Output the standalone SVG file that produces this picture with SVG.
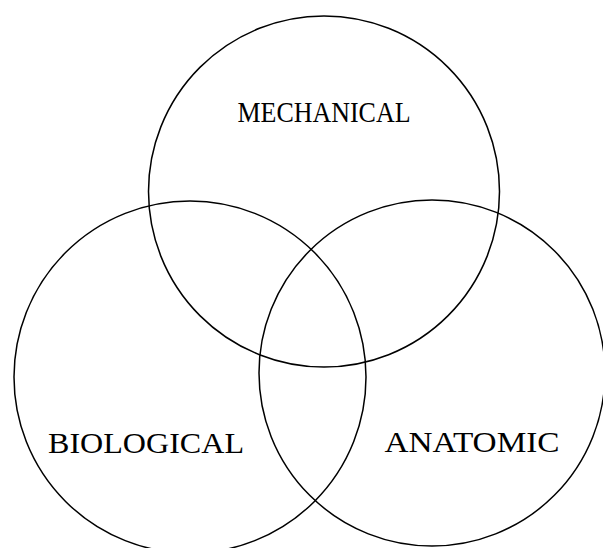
<svg xmlns="http://www.w3.org/2000/svg" width="603" height="548" viewBox="0 0 603 548">
<style>
.c{fill:none;stroke:#000;stroke-width:1.5}
.t{font-family:"Liberation Serif","Times New Roman",serif;font-size:30px;fill:#000;text-anchor:middle}
</style>
<rect width="603" height="548" fill="#fff"/>
<g id="mechanical"><circle class="c" cx="324" cy="191.5" r="175.5"/><text class="t" x="324" y="122" textLength="173" lengthAdjust="spacingAndGlyphs">MECHANICAL</text></g>
<g id="biological"><circle class="c" cx="190" cy="377" r="176"/><text class="t" x="146" y="453" textLength="196" lengthAdjust="spacingAndGlyphs">BIOLOGICAL</text></g>
<g id="anatomic"><circle class="c" cx="432" cy="373" r="173"/><text class="t" x="472" y="452" textLength="175" lengthAdjust="spacingAndGlyphs">ANATOMIC</text></g>
<g id="connectors"/>
</svg>
